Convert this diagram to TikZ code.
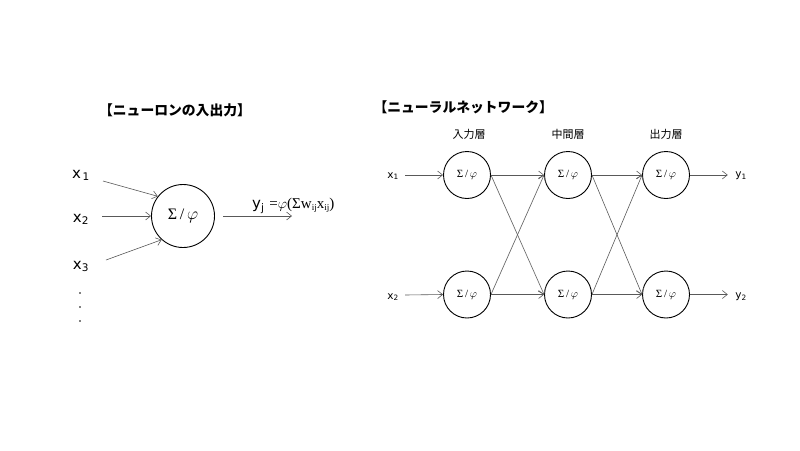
\documentclass[tikz,border=0pt]{standalone}
\usepackage{fontspec}
\setmainfont{Liberation Serif}
\newfontfamily\jpfont{Noto Sans CJK JP}
\newfontfamily\lblfont{DejaVu Sans}
\usetikzlibrary{arrows.meta}
\newcommand{\sigphi}{Σ\,/\,$\varphi$}
\begin{document}
\begin{tikzpicture}[x=1pt,y=-1pt,
  neuron/.style={circle,draw=black,line width=0.9pt,inner sep=0pt},
  conn/.style={draw=black!65,line width=0.6pt,-{Straight Barb[length=5pt,width=8pt]}},
  title/.style={font=\jpfont\bfseries\fontsize{13.8}{16}\selectfont},
  layer/.style={font=\jpfont\fontsize{11}{13}\selectfont},
  biglbl/.style={font=\lblfont\fontsize{15}{18}\selectfont},
  smalllbl/.style={font=\lblfont\fontsize{10.5}{12}\selectfont},
  dot/.style={circle,fill=black,inner sep=0pt,minimum size=1.8pt}]
\useasboundingbox (0,0) rectangle (800,450);
% ---- left: single neuron ----
\node[title] (t1) at (175,110) {【ニューロンの入出力】};
\node[neuron,minimum size=63pt,font=\fontsize{16}{18}\selectfont] (c) at (183,216) {\sigphi};
\node[biglbl,anchor=base] (x1) at (81,178) {x\textsubscript{\,1}};
\node[biglbl,anchor=base] (x2) at (81,222) {x\textsubscript{2}};
\node[biglbl,anchor=base] (x3) at (81,269) {x\textsubscript{3}};
\coordinate (s1) at (103,181);
\coordinate (s2) at (102,216);
\coordinate (s3) at (106,260);
\draw[conn] (s1) -- (c.142);
\draw[conn] (s2) -- (c.west);
\draw[conn] (s3) -- (c.228);
\coordinate (o1) at (223,216);
\coordinate (o2) at (292,216);
\draw[conn] (o1) -- (o2);
\node[anchor=base west,inner sep=0pt] (f) at (252,208) {{\lblfont\fontsize{15}{18}\selectfont y\textsubscript{j}}\ \ {\fontsize{15}{18}\selectfont =$\varphi$(Σw{\fontsize{9}{9}\selectfont\raisebox{-2.5pt}{ij}}x{\fontsize{9}{9}\selectfont\raisebox{-2.5pt}{ij}})}};
\node[dot] (d1) at (80,293) {};
\node[dot] (d2) at (80,307) {};
\node[dot] (d3) at (80,321) {};
% ---- right: network ----
\node[title,anchor=west] (t2) at (370,107) {【ニューラルネットワーク】};
\node[layer] (l1) at (469,134) {入力層};
\node[layer] (l2) at (568,134) {中間層};
\node[layer] (l3) at (666,134) {出力層};
\tikzset{small/.style={neuron,minimum size=47pt,font=\fontsize{11}{12}\selectfont}}
\node[small] (a1) at (467,175) {\sigphi};
\node[small] (a2) at (467,294.5) {\sigphi};
\node[small] (b1) at (568,175) {\sigphi};
\node[small] (b2) at (568,294.5) {\sigphi};
\node[small] (c1) at (666,175) {\sigphi};
\node[small] (c2) at (666,294.5) {\sigphi};
\node[smalllbl] (nx1) at (393,176) {x\textsubscript{1}};
\node[smalllbl] (nx2) at (393,297) {x\textsubscript{2}};
\node[smalllbl] (ny1) at (741,176) {y\textsubscript{1}};
\node[smalllbl] (ny2) at (741,297) {y\textsubscript{2}};
\draw[conn] (nx1.east) ++(3,-1) coordinate (p1) (p1) -- (a1.west);
\draw[conn] (nx2.east) ++(3,-2) coordinate (p2) (p2) -- (a2.west);
\draw[conn] (c1.east) -- ([xshift=-4pt]ny1.west|-c1.east);
\draw[conn] (c2.east) -- ([xshift=-4pt]ny2.west|-c2.east);
\foreach \u/\v in {a1/b1,a1/b2,a2/b1,a2/b2,b1/c1,b1/c2,b2/c1,b2/c2}
  \draw[conn] (\u.east) -- (\v.west);
\end{tikzpicture}
\end{document}
